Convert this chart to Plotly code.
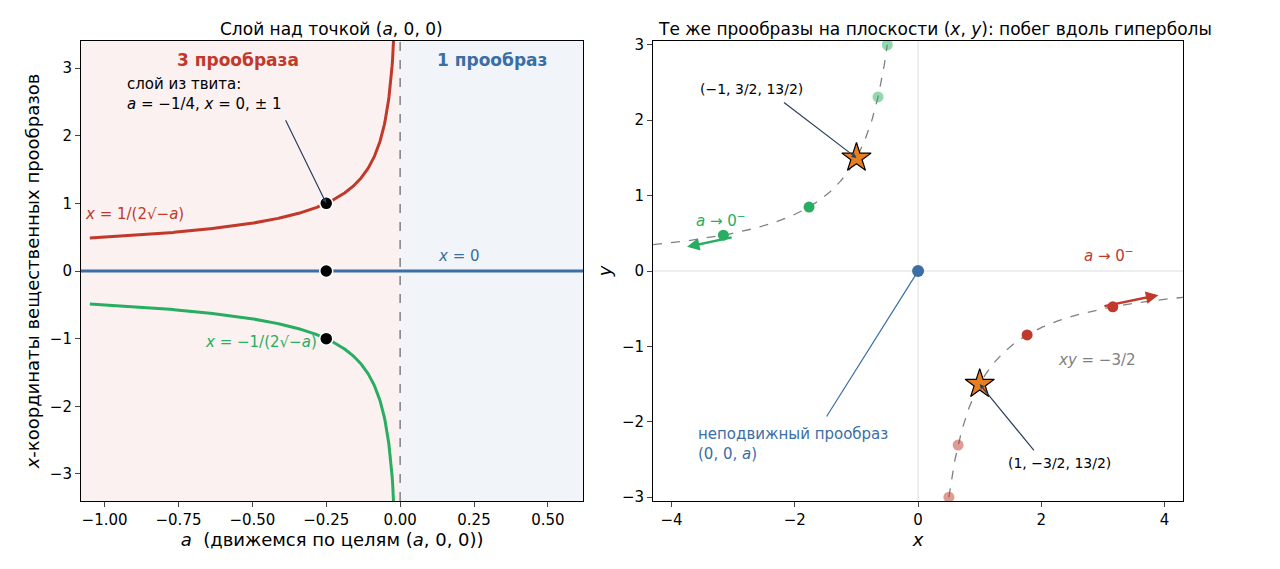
import numpy as np
import plotly.graph_objects as go
from plotly.subplots import make_subplots

a_grid = np.linspace(-1.05, -0.0045, 600)
fiber_a = [-0.25, -0.25, -0.25]
fiber_x = [1, 0, -1]
green_x = [-3.16, -1.77, -0.65, -0.5]
green_op = [1, 1, 0.5, 0.5]
red_x = [3.16, 1.77, 0.65, 0.5]
hx_left = np.linspace(-4.3, -0.5, 300)
hx_right = np.linspace(0.5, 4.3, 300)

RED = "#c0392b"; GREEN = "#27ae60"; BLUE = "#3a6ea5"
fig = make_subplots(rows=1, cols=2, horizontal_spacing=0.055)
font = dict(family="DejaVu Sans", size=15, color="black")

xp = 1 / (2 * np.sqrt(-a_grid))
fig.add_trace(go.Scatter(x=a_grid, y=xp, mode="lines", line=dict(color=RED, width=3)), 1, 1)
fig.add_trace(go.Scatter(x=a_grid, y=-xp, mode="lines", line=dict(color=GREEN, width=3)), 1, 1)
fig.add_trace(go.Scatter(x=[-1.08, 0.62], y=[0, 0], mode="lines", line=dict(color=BLUE, width=3)), 1, 1)
fig.add_trace(go.Scatter(x=fiber_a, y=fiber_x, mode="markers",
                         marker=dict(color="black", size=13, line=dict(color="white", width=1.5))), 1, 1)

fig.add_trace(go.Scatter(x=hx_left, y=-1.5 / hx_left, mode="lines", line=dict(color="gray", width=1.3, dash="dash")), 1, 2)
fig.add_trace(go.Scatter(x=hx_right, y=-1.5 / hx_right, mode="lines", line=dict(color="gray", width=1.3, dash="dash")), 1, 2)
gx = np.array(green_x); rx = np.array(red_x)
fig.add_trace(go.Scatter(x=gx, y=-1.5 / gx, mode="markers",
                         marker=dict(color=GREEN, size=11, opacity=green_op)), 1, 2)
fig.add_trace(go.Scatter(x=rx, y=-1.5 / rx, mode="markers",
                         marker=dict(color=RED, size=11, opacity=green_op)), 1, 2)
fig.add_trace(go.Scatter(x=[0], y=[0], mode="markers", marker=dict(color=BLUE, size=12)), 1, 2)
fig.add_trace(go.Scatter(x=[-1, 1], y=[1.5, -1.5], mode="markers",
                         marker=dict(symbol="star", color="#e67e22", size=22, line=dict(color="black", width=1.2))), 1, 2)

fig.add_shape(type="rect", x0=-1.08, x1=0, y0=-3.4, y1=3.4, fillcolor="rgba(192,57,43,0.07)", line_width=0, layer="below", row=1, col=1)
fig.add_shape(type="rect", x0=0, x1=0.62, y0=-3.4, y1=3.4, fillcolor="rgba(58,110,165,0.07)", line_width=0, layer="below", row=1, col=1)
fig.add_shape(type="line", x0=0, x1=0, y0=-3.4, y1=3.4, line=dict(color="gray", width=1.5, dash="dash"), row=1, col=1)
fig.add_shape(type="line", x0=0, x1=0, y0=-3.05, y1=3.05, line=dict(color="#dddddd", width=1), layer="below", row=1, col=2)
fig.add_shape(type="line", x0=-4.3, x1=4.3, y0=0, y1=0, line=dict(color="#dddddd", width=1), layer="below", row=1, col=2)

def ann(**k):
    d = dict(showarrow=False, font=dict(family="DejaVu Sans", size=15, color="black"))
    d.update(k); fig.add_annotation(**d)

ann(x=-0.55, y=3.12, xref="x", yref="y", text="<b>3 прообраза</b>", font=dict(family="DejaVu Sans", size=17, color=RED))
ann(x=0.31, y=3.12, xref="x", yref="y", text="<b>1 прообраз</b>", font=dict(family="DejaVu Sans", size=17, color=BLUE))
ann(x=-0.25, y=1.0, ax=-0.39, ay=2.25, axref="x", ayref="y", xref="x", yref="y", showarrow=True, arrowhead=2, arrowsize=0.8, arrowwidth=1.2, text="")
ann(x=-0.93, y=2.62, xref="x", yref="y", xanchor="left", align="left", text="слой из твита:<br><i>a</i> = −1/4, <i>x</i> = 0, ± 1")
ann(x=-0.9, y=0.85, xref="x", yref="y", text="<i>x</i> = 1/(2√−<i>a</i>)", font=dict(family="DejaVu Sans", size=15, color=RED))
ann(x=-0.47, y=-1.05, xref="x", yref="y", text="<i>x</i> = −1/(2√−<i>a</i>)", font=dict(family="DejaVu Sans", size=15, color=GREEN))
ann(x=0.2, y=0.22, xref="x", yref="y", text="<i>x</i> = 0", font=dict(family="DejaVu Sans", size=15, color=BLUE))

ann(x=-1, y=1.5, ax=-2.2, ay=2.25, axref="x2", ayref="y2", xref="x2", yref="y2", showarrow=True, arrowhead=2, arrowsize=0.8, arrowwidth=1.2, text="")
ann(x=-2.7, y=2.42, xref="x2", yref="y2", text="(−1, 3/2, 13/2)", font=dict(family="DejaVu Sans", size=14))
ann(x=1, y=-1.5, ax=1.9, ay=-2.4, axref="x2", ayref="y2", xref="x2", yref="y2", showarrow=True, arrowhead=2, arrowsize=0.8, arrowwidth=1.2, text="")
ann(x=2.3, y=-2.55, xref="x2", yref="y2", text="(1, −3/2, 13/2)", font=dict(family="DejaVu Sans", size=14))
ann(x=0, y=0, ax=-1.5, ay=-1.95, axref="x2", ayref="y2", xref="x2", yref="y2", showarrow=True, arrowhead=2, arrowsize=0.8, arrowwidth=1.2, arrowcolor=BLUE, text="")
ann(x=-3.6, y=-2.3, xref="x2", yref="y2", xanchor="left", align="left", text="неподвижный прообраз<br>(0, 0, <i>a</i>)", font=dict(family="DejaVu Sans", size=15, color=BLUE))
ann(x=-3.2, y=0.68, xref="x2", yref="y2", text="<i>a</i> → 0<sup>−</sup>", font=dict(family="DejaVu Sans", size=15, color=GREEN))
ann(x=3.1, y=0.05, xref="x2", yref="y2", yanchor="bottom", text="<i>a</i> → 0<sup>−</sup>", font=dict(family="DejaVu Sans", size=15, color=RED))
ann(x=-3.75, y=0.32, ax=-3.0, ay=0.45, axref="x2", ayref="y2", xref="x2", yref="y2", showarrow=True, arrowhead=2, arrowwidth=2.5, arrowcolor=GREEN, text="")
ann(x=3.9, y=-0.32, ax=3.0, ay=-0.47, axref="x2", ayref="y2", xref="x2", yref="y2", showarrow=True, arrowhead=2, arrowwidth=2.5, arrowcolor=RED, text="")
ann(x=2.9, y=-1.18, xref="x2", yref="y2", text="<i>xy</i> = −3/2", font=dict(family="DejaVu Sans", size=15, color="gray"))
ann(x=0.253, y=1.0, xref="paper", yref="paper", xanchor="center", yanchor="bottom", text="Слой над точкой (<i>a</i>, 0, 0)", font=dict(family="DejaVu Sans", size=17))
ann(x=0.724, y=1.0, xref="paper", yref="paper", xanchor="center", yanchor="bottom", text="Те же прообразы на плоскости (<i>x</i>, <i>y</i>): побег вдоль гиперболы", font=dict(family="DejaVu Sans", size=17))

ax = dict(showgrid=False, zeroline=False, showline=True, mirror=True, linecolor="black", ticks="outside",
          tickfont=dict(family="DejaVu Sans", size=15), automargin=False)
fig.update_xaxes(**ax); fig.update_yaxes(**ax)
fig.update_xaxes(range=[-1.08, 0.62], tickvals=[-1, -0.75, -0.5, -0.25, 0, 0.25, 0.5],
                 ticktext=["−1.00", "−0.75", "−0.50", "−0.25", "0.00", "0.25", "0.50"],
                 title=dict(text="<i>a</i>  (движемся по целям (<i>a</i>, 0, 0))", standoff=5), row=1, col=1)
fig.update_yaxes(range=[-3.4, 3.4], tickvals=[-3, -2, -1, 0, 1, 2, 3], ticktext=["−3", "−2", "−1", "0", "1", "2", "3"],
                 title=dict(text="<i>x</i>-координаты вещественных прообразов", standoff=5), row=1, col=1)
fig.update_xaxes(range=[-4.3, 4.3], tickvals=[-4, -2, 0, 2, 4], ticktext=["−4", "−2", "0", "2", "4"],
                 title=dict(text="<i>x</i>", standoff=3), domain=[0.504, 0.918], row=1, col=2)
fig.update_yaxes(range=[-3.05, 3.05], tickvals=[-3, -2, -1, 0, 1, 2, 3], ticktext=["−3", "−2", "−1", "0", "1", "2", "3"],
                 title=dict(text="<i>y</i>", standoff=5), row=1, col=2)
fig.update_xaxes(domain=[0.057, 0.4495], row=1, col=1)
fig.update_yaxes(domain=[0, 1])
fig.update_layout(width=1280, height=569, showlegend=False, plot_bgcolor="white", paper_bgcolor="white",
                  margin=dict(l=0, r=0, t=33, b=76), font=font)
fig.write_html("out.html")
